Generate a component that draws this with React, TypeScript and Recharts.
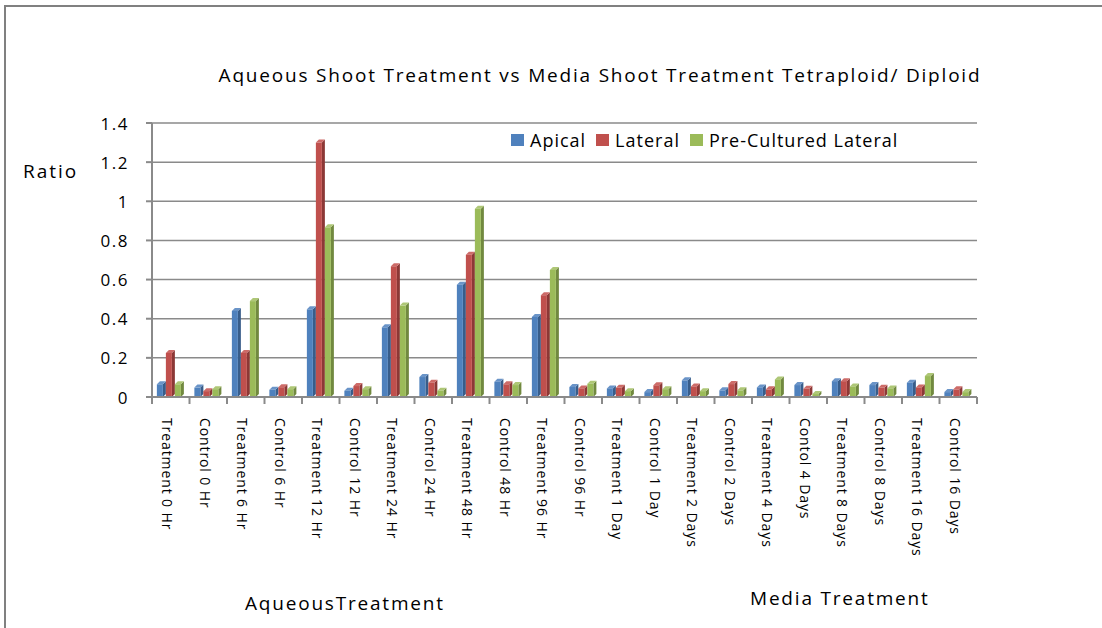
import React from "react";
import { BarChart, Bar, XAxis, YAxis, CartesianGrid } from "recharts";

const CATEGORIES = [
  "Treatment 0 Hr",
  "Control 0 Hr",
  "Treatment 6 Hr",
  "Control 6 Hr",
  "Treatment 12 Hr",
  "Control 12 Hr",
  "Treatment 24 Hr",
  "Control 24 Hr",
  "Treatment 48 Hr",
  "Control 48 Hr",
  "Treatment 96 Hr",
  "Control 96 Hr",
  "Treatment 1 Day",
  "Control 1 Day",
  "Treatment 2 Days",
  "Control 2 Days",
  "Treatment 4 Days",
  "Contol 4 Days",
  "Treatment 8 Days",
  "Control 8 Days",
  "Treatment 16 Days",
  "Control 16 Days",
];

const APICAL = [
  0.065, 0.048, 0.44, 0.037, 0.448, 0.032, 0.356, 0.102, 0.574, 0.078, 0.409,
  0.051, 0.044, 0.025, 0.085, 0.034, 0.049, 0.061, 0.081, 0.061, 0.073, 0.025,
];
const LATERAL = [
  0.225, 0.03, 0.225, 0.05, 1.3, 0.056, 0.668, 0.073, 0.727, 0.065, 0.52,
  0.044, 0.047, 0.06, 0.054, 0.066, 0.039, 0.042, 0.081, 0.047, 0.049, 0.039,
];
const PRE_CULTURED = [
  0.065, 0.04, 0.49, 0.04, 0.867, 0.04, 0.467, 0.032, 0.962, 0.061, 0.649,
  0.068, 0.03, 0.04, 0.03, 0.034, 0.09, 0.015, 0.054, 0.044, 0.107, 0.025,
];

const Y_TICKS = [0, 0.2, 0.4, 0.6, 0.8, 1, 1.2, 1.4];

const SERIES = [
  { key: "apical", name: "Apical", fill: "#4f81bd", side: "#385d8a", top: "#6a94c8" },
  { key: "lateral", name: "Lateral", fill: "#c0504d", side: "#8c3836", top: "#cd6b68" },
  { key: "pre", name: "Pre-Cultured Lateral", fill: "#9bbb59", side: "#71893f", top: "#aec776" },
];

const FONT = "'Open Sans', sans-serif";
const GRID = "#8a8a8a";

const data = CATEGORIES.map((name, i) => ({
  name,
  apical: APICAL[i],
  lateral: LATERAL[i],
  pre: PRE_CULTURED[i],
}));

// plot box
const CHART_W = 1102;
const CHART_H = 628;
const PLOT_LEFT = 152;
const PLOT_RIGHT = 977;
const PLOT_TOP = 123;
const PLOT_BOTTOM = 397;
const HALF_BAND = (PLOT_RIGHT - PLOT_LEFT) / CATEGORIES.length / 2;

// bar with a darker side face and a top face, like a 3-D column
function Column(props: any) {
  const { x, y, width, height, fill, side, top } = props;
  if (!height || height <= 0) return null;
  const d = 3;
  const w = width - d;
  return (
    <g>
      <polygon
        points={`${x + w},${y} ${x + width},${y - d} ${x + width},${y + height - d} ${x + w},${y + height}`}
        fill={side}
      />
      <polygon
        points={`${x},${y} ${x + d},${y - d} ${x + width},${y - d} ${x + w},${y}`}
        fill={top}
      />
      <rect x={x} y={y} width={w} height={height} fill={fill} />
    </g>
  );
}

function CategoryTick(props: any) {
  const { x, payload, index } = props;
  const left = x - HALF_BAND;
  return (
    <g>
      <line x1={left} y1={PLOT_BOTTOM} x2={left} y2={PLOT_BOTTOM + 7} stroke={GRID} strokeWidth={2} />
      {index === CATEGORIES.length - 1 && (
        <line x1={x + HALF_BAND} y1={PLOT_BOTTOM} x2={x + HALF_BAND} y2={PLOT_BOTTOM + 7} stroke={GRID} strokeWidth={2} />
      )}
      <text
        x={x - 3}
        y={418}
        transform={`rotate(90, ${x - 3}, 418)`}
        textAnchor="start"
        dominantBaseline="central"
        fontFamily={FONT}
        fontSize={14}
        fill="#000"
        style={{ letterSpacing: 0.9 }}
      >
        {payload.value}
      </text>
    </g>
  );
}

function ValueTick(props: any) {
  const { y, payload } = props;
  return (
    <text
      x={129}
      y={y}
      textAnchor="end"
      dominantBaseline="central"
      fontFamily={FONT}
      fontSize={17}
      fill="#000"
      style={{ letterSpacing: 1.5 }}
    >
      {String(payload.value)}
    </text>
  );
}

const label = (size: number, spacing: number): React.CSSProperties => ({
  position: "absolute",
  fontFamily: FONT,
  fontSize: size,
  letterSpacing: spacing,
  color: "#000",
  whiteSpace: "nowrap",
  lineHeight: 1,
});

export default function App() {
  return (
    <div style={{ position: "fixed", left: 0, top: 0, width: CHART_W, height: CHART_H, background: "#fff", overflow: "hidden" }}>
      <BarChart
        width={CHART_W}
        height={CHART_H}
        data={data}
        margin={{ top: PLOT_TOP, right: CHART_W - PLOT_RIGHT, bottom: 31, left: PLOT_LEFT - 60 }}
        barGap={0}
        barCategoryGap="13%"
      >
        <CartesianGrid vertical={false} stroke={GRID} strokeWidth={1.5} />
        <XAxis
          dataKey="name"
          interval={0}
          height={CHART_H - 31 - PLOT_BOTTOM}
          tickLine={false}
          axisLine={{ stroke: GRID, strokeWidth: 2 }}
          tick={<CategoryTick />}
        />
        <YAxis
          width={60}
          domain={[0, 1.4]}
          ticks={Y_TICKS}
          interval={0}
          tickSize={6}
          tickLine={{ stroke: GRID, strokeWidth: 2 }}
          axisLine={{ stroke: GRID, strokeWidth: 2 }}
          tick={<ValueTick />}
        />
        {SERIES.map((s) => (
          <Bar
            key={s.key}
            dataKey={s.key}
            name={s.name}
            fill={s.fill}
            isAnimationActive={false}
            shape={(p: any) => <Column {...p} side={s.side} top={s.top} />}
          />
        ))}
      </BarChart>

      <div style={{ ...label(19, 1.8), left: 0, width: CHART_W, top: 66, textAlign: "center", paddingLeft: 98, boxSizing: "border-box" }}>
        Aqueous Shoot Treatment vs Media Shoot Treatment Tetraploid/ Diploid
      </div>
      <div style={{ ...label(19, 2), left: 23, top: 162 }}>Ratio</div>
      <div style={{ ...label(19, 1.8), left: 245, top: 594 }}>AqueousTreatment</div>
      <div style={{ ...label(19, 1.8), left: 750, top: 589 }}>Media Treatment</div>

      <div style={{ ...label(18, 1), left: 511, top: 131, display: "flex", alignItems: "center" }}>
        {SERIES.map((s) => (
          <div key={s.key} style={{ display: "flex", alignItems: "center", marginRight: 10 }}>
            <span style={{ width: 13, height: 12, background: s.fill, display: "inline-block", marginRight: 6 }} />
            <span>{s.name}</span>
          </div>
        ))}
      </div>

      {/* chart-area frame: only the left and top edges fall inside the view */}
      <div
        style={{
          position: "absolute",
          left: 4,
          top: 5,
          width: CHART_W,
          height: CHART_H,
          borderLeft: "2px solid #808080",
          borderTop: "2px solid #808080",
          boxSizing: "border-box",
          zIndex: 5,
          pointerEvents: "none",
        }}
      />
    </div>
  );
}
